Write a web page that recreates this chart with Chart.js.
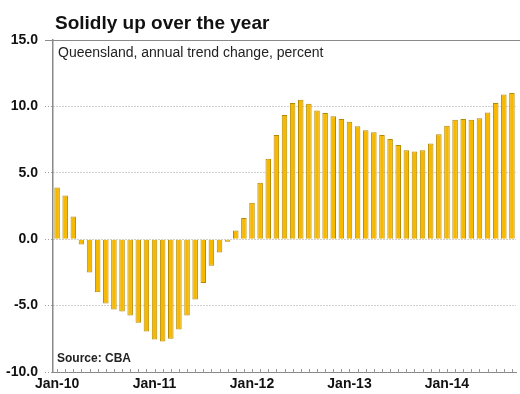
<!DOCTYPE html>
<html>
<head>
<meta charset="utf-8">
<script src="https://cdn.jsdelivr.net/npm/chart.js@4.4.1/dist/chart.umd.min.js"></script>
<style>
  html, body { margin: 0; padding: 0; background: #fff; }
  #wrap { position: relative; width: 520px; height: 394px; }
</style>
</head>
<body>
<div id="wrap"><canvas id="qldChart" width="520" height="394"></canvas></div>
<script>
const months = [
    'Jan-10','Feb-10','Mar-10','Apr-10','May-10','Jun-10','Jul-10','Aug-10','Sep-10','Oct-10','Nov-10','Dec-10',
    'Jan-11','Feb-11','Mar-11','Apr-11','May-11','Jun-11','Jul-11','Aug-11','Sep-11','Oct-11','Nov-11','Dec-11',
    'Jan-12','Feb-12','Mar-12','Apr-12','May-12','Jun-12','Jul-12','Aug-12','Sep-12','Oct-12','Nov-12','Dec-12',
    'Jan-13','Feb-13','Mar-13','Apr-13','May-13','Jun-13','Jul-13','Aug-13','Sep-13','Oct-13','Nov-13','Dec-13',
    'Jan-14','Feb-14','Mar-14','Apr-14','May-14','Jun-14','Jul-14','Aug-14','Sep-14'
];

// annual trend change, percent
const growth = [
    3.9, 3.3, 1.7, -0.4, -2.5, -4.0, -4.85, -5.3, -5.45, -5.75, -6.3, -6.95,
    -7.55, -7.7, -7.5, -6.8, -5.75, -4.55, -3.3, -2.0, -1.0, -0.2, 0.65, 1.6,
    2.75, 4.25, 6.05, 7.85, 9.35, 10.25, 10.5, 10.2, 9.7, 9.5, 9.25, 9.05,
    8.85, 8.5, 8.2, 8.05, 7.85, 7.55, 7.1, 6.7, 6.6, 6.7, 7.2, 7.9,
    8.55, 9.0, 9.05, 9.0, 9.1, 9.55, 10.25, 10.9, 11.0
];

const yMin = -10;
const yMax = 15;
const yStep = 5;

const titleText  = 'Solidly up over the year';
const subText    = 'Queensland, annual trend change, percent';
const sourceText = 'Source: CBA';

const FONT = '"Liberation Sans", Arial, sans-serif';

// frame line on top, small inward month ticks, and the texts
const extras = {
    id: 'extras',
    afterDraw(chart) {
        const ctx = chart.ctx;
        const area = chart.chartArea;
        const xs = chart.scales.x;

        ctx.save();
        ctx.strokeStyle = '#8a8a8a';
        ctx.lineWidth = 1;
        ctx.beginPath();
        ctx.moveTo(45, Math.round(area.top) + 0.5);
        ctx.lineTo(520, Math.round(area.top) + 0.5);
        ctx.stroke();

        ctx.strokeStyle = '#999';
        ctx.beginPath();
        for (let i = 0; i < months.length; i++) {
            const x = Math.round(xs.getPixelForTick(i)) + 0.5;
            ctx.moveTo(x, area.bottom);
            ctx.lineTo(x, area.bottom - 3);
        }
        ctx.stroke();

        ctx.fillStyle = '#111';
        ctx.textBaseline = 'alphabetic';
        ctx.textAlign = 'left';
        ctx.font = 'bold 19px ' + FONT;
        ctx.fillText(titleText, 55, 29);
        ctx.font = '14px ' + FONT;
        ctx.fillStyle = '#222';
        ctx.fillText(subText, 58, 57);
        ctx.font = 'bold 12px ' + FONT;
        ctx.fillText(sourceText, 57, 362);
        ctx.restore();
    }
};

new Chart(document.getElementById('qldChart').getContext('2d'), {
    type: 'bar',
    data: {
        labels: months,
        datasets: [{
            data: growth,
            backgroundColor: '#F7B800',
            borderColor: '#B58A00',
            borderWidth: 1,
            barPercentage: 0.68,
            categoryPercentage: 1
        }]
    },
    options: {
        responsive: false,
        animation: false,
        layout: { padding: { top: 40, right: 4, left: 0, bottom: 0 } },
        plugins: {
            legend: { display: false },
            tooltip: { enabled: false },
            title: { display: false }
        },
        scales: {
            x: {
                grid: { display: false, drawTicks: false },
                border: { display: true, color: '#8a8a8a', width: 1 },
                ticks: {
                    autoSkip: false,
                    maxRotation: 0,
                    minRotation: 0,
                    padding: 4,
                    color: '#111',
                    font: { family: FONT, size: 14, weight: 'bold' },
                    callback: function (v, i) {
                        return months[i].startsWith('Jan') ? months[i] : '';
                    }
                },
                afterFit: function (s) { s.height = 22; }
            },
            y: {
                min: yMin,
                max: yMax,
                ticks: {
                    stepSize: yStep,
                    padding: 7,
                    color: '#111',
                    font: { family: FONT, size: 14, weight: 'bold' },
                    callback: function (v) { return v.toFixed(1); }
                },
                grid: {
                    color: '#a0a0a0',
                    lineWidth: 1,
                    tickLength: 8,
                    tickColor: '#a0a0a0',
                    tickBorderDash: [1, 2]
                },
                border: { display: true, color: '#8a8a8a', width: 1.5, dash: [1, 2] },
                afterFit: function (s) { s.width = 53; }
            }
        }
    },
    plugins: [extras]
});
</script>
</body>
</html>
